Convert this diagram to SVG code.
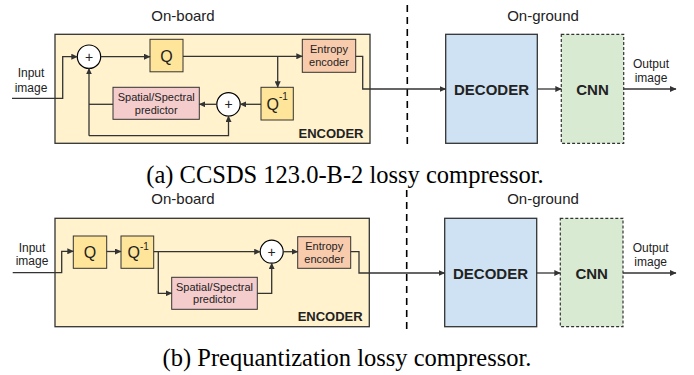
<svg xmlns="http://www.w3.org/2000/svg" width="694" height="375" viewBox="0 0 694 375">
<defs>
<marker id="arr" markerUnits="userSpaceOnUse" markerWidth="7" markerHeight="6" refX="6" refY="3" orient="auto">
<path d="M0,0 L6.5,3 L0,6 z" fill="#333"/>
</marker>
<style>
.enc{fill:#fff2cc;stroke:#333;stroke-width:1.3}
.q{fill:#ffe599;stroke:#333;stroke-width:1}
.ent{fill:#f8cbad;stroke:#333;stroke-width:1}
.pred{fill:#f4cccc;stroke:#333;stroke-width:1}
.dec{fill:#cfe2f3;stroke:#333;stroke-width:1.3}
.cnn{fill:#d9ead3;stroke:#333;stroke-width:1.2;stroke-dasharray:3,2}
.sum{fill:#fff;stroke:#000;stroke-width:1.2}
.c{fill:none;stroke:#333;stroke-width:1.3}
.a{marker-end:url(#arr)}
.dash{fill:none;stroke:#000;stroke-width:1.6;stroke-dasharray:7,5}
text{font-family:"Liberation Sans",Arial,sans-serif;fill:#222}
.t12{font-size:12px}
.t11{font-size:11px}
.t15{font-size:15px}
.q16{font-size:16px}
.sup{font-size:10px}
.bold{font-weight:bold}
.cap{font-family:"Liberation Serif","Times New Roman",serif;font-size:24.5px;fill:#000}
</style>
</defs>

<!-- (a) -->
<g id="a-onboard"><text class="t15" x="183" y="21" text-anchor="middle">On-board</text></g>
<g id="a-onground"><text class="t15" x="543" y="21" text-anchor="middle">On-ground</text></g>
<g id="a-encoder"><rect class="enc" x="55" y="34.3" width="315" height="109"/>
<text class="bold" font-size="13" x="363.5" y="138" text-anchor="end">ENCODER</text></g>
<g id="a-input"><text class="t12" x="31" y="76.5" text-anchor="middle">Input</text><text class="t12" x="31" y="91.5" text-anchor="middle">image</text></g>
<g id="a-sum1"><circle class="sum" cx="89" cy="56.7" r="11.7"/><text font-size="14" x="89" y="61.5" text-anchor="middle">+</text></g>
<g id="a-q"><rect class="q" x="150" y="39.3" width="33" height="32.5"/><text class="q16" x="166.5" y="61.7" text-anchor="middle">Q</text></g>
<g id="a-entropy"><rect class="ent" x="302.3" y="39.3" width="53.4" height="33"/>
<text class="t11" x="329" y="53.3" text-anchor="middle">Entropy</text><text class="t11" x="329" y="66" text-anchor="middle">encoder</text></g>
<g id="a-qinv"><rect class="q" x="261" y="87.3" width="32.3" height="32.7"/><text class="q16" x="266.5" y="110">Q</text><text class="sup" x="279" y="100">-1</text></g>
<g id="a-sum2"><circle class="sum" cx="228.5" cy="104.3" r="11.7"/><text font-size="14" x="228.5" y="109.1" text-anchor="middle">+</text></g>
<g id="a-pred"><rect class="pred" x="113" y="87.3" width="86.3" height="32"/>
<text class="t11" x="156.2" y="101" text-anchor="middle">Spatial/Spectral</text><text class="t11" x="156.2" y="114.3" text-anchor="middle">predictor</text></g>
<g id="a-decoder"><rect class="dec" x="445.7" y="34.3" width="91.6" height="109"/><text class="t15 bold" x="491.5" y="94.5" text-anchor="middle">DECODER</text></g>
<g id="a-cnn"><rect class="cnn" x="561.3" y="34.3" width="62.4" height="109"/><text class="t15 bold" x="592.5" y="94.5" text-anchor="middle">CNN</text></g>
<g id="a-output"><text class="t12" x="651" y="67.5" text-anchor="middle">Output</text><text class="t12" x="651" y="81.5" text-anchor="middle">image</text></g>
<g id="a-caption"><text class="cap" x="345" y="183" text-anchor="middle">(a) CCSDS 123.0-B-2 lossy compressor.</text></g>

<!-- (b) -->
<g id="b-onboard"><text class="t15" x="183" y="204" text-anchor="middle">On-board</text></g>
<g id="b-onground"><text class="t15" x="543" y="204" text-anchor="middle">On-ground</text></g>
<g id="b-encoder"><rect class="enc" x="55" y="218.3" width="314.3" height="108.4"/>
<text class="bold" font-size="13" x="362.7" y="321" text-anchor="end">ENCODER</text></g>
<g id="b-input"><text class="t12" x="32" y="251.5" text-anchor="middle">Input</text><text class="t12" x="32" y="264.5" text-anchor="middle">image</text></g>
<g id="b-q"><rect class="q" x="73.3" y="236" width="33.4" height="32.3"/><text class="q16" x="90" y="257.7" text-anchor="middle">Q</text></g>
<g id="b-qinv"><rect class="q" x="121" y="236" width="32.7" height="32.3"/><text class="q16" x="127.5" y="257.7">Q</text><text class="sup" x="140" y="250">-1</text></g>
<g id="b-pred"><rect class="pred" x="171.7" y="277.3" width="85.6" height="32"/>
<text class="t11" x="214.5" y="290.7" text-anchor="middle">Spatial/Spectral</text><text class="t11" x="214.5" y="302.7" text-anchor="middle">predictor</text></g>
<g id="b-sum"><circle class="sum" cx="271.7" cy="251.7" r="11.5"/><text font-size="14" x="271.7" y="256.5" text-anchor="middle">+</text></g>
<g id="b-entropy"><rect class="ent" x="297.7" y="236.7" width="53" height="31.6"/>
<text class="t11" x="324.2" y="250" text-anchor="middle">Entropy</text><text class="t11" x="324.2" y="262.7" text-anchor="middle">encoder</text></g>
<g id="b-decoder"><rect class="dec" x="444.7" y="218.3" width="92" height="108.4"/><text class="t15 bold" x="490.5" y="279" text-anchor="middle">DECODER</text></g>
<g id="b-cnn"><rect class="cnn" x="560.3" y="218.3" width="62.7" height="108.4"/><text class="t15 bold" x="591.7" y="279" text-anchor="middle">CNN</text></g>
<g id="b-output"><text class="t12" x="650.7" y="251.7" text-anchor="middle">Output</text><text class="t12" x="650.7" y="266" text-anchor="middle">image</text></g>
<g id="b-caption"><text class="cap" x="347" y="366" text-anchor="middle">(b) Prequantization lossy compressor.</text></g>

<g id="connectors">
<path class="dash" d="M407.3,5 V146"/>
<path class="dash" d="M406.7,190 V332"/>
<!-- (a) -->
<path class="c a" d="M12,98.3 H62.7 V56.7 H77.3"/>
<path class="c a" d="M100.7,56.7 H150"/>
<path class="c a" d="M183,56.3 H302.3"/>
<path class="c a" d="M277.7,56.3 V87.3"/>
<path class="c a" d="M261,104.3 H240.2"/>
<path class="c a" d="M216.8,104.3 H199.3"/>
<path class="c" d="M113,104.3 H89"/>
<path class="c a" d="M89,135.7 V68.4"/>
<path class="c a" d="M89,135.7 H228.5 V116"/>
<path class="c a" d="M355.7,56.3 H362.7 V89 H445.7"/>
<path class="c a" d="M537.3,89 H561.3"/>
<path class="c a" d="M623.7,89 H676"/>
<!-- (b) -->
<path class="c a" d="M12.7,272.7 H61.7 V251.3 H73.3"/>
<path class="c a" d="M106.7,251.5 H121"/>
<path class="c a" d="M153.7,251.7 H260.2"/>
<path class="c a" d="M158.3,251.7 V293.3 H171.7"/>
<path class="c a" d="M257.3,293.3 H271.7 V263.2"/>
<path class="c a" d="M283.2,251.7 H297.7"/>
<path class="c a" d="M350.7,251.7 H359 V273 H444.7"/>
<path class="c a" d="M536.7,273 H560.3"/>
<path class="c a" d="M623,273 H676"/>
</g>
</svg>
